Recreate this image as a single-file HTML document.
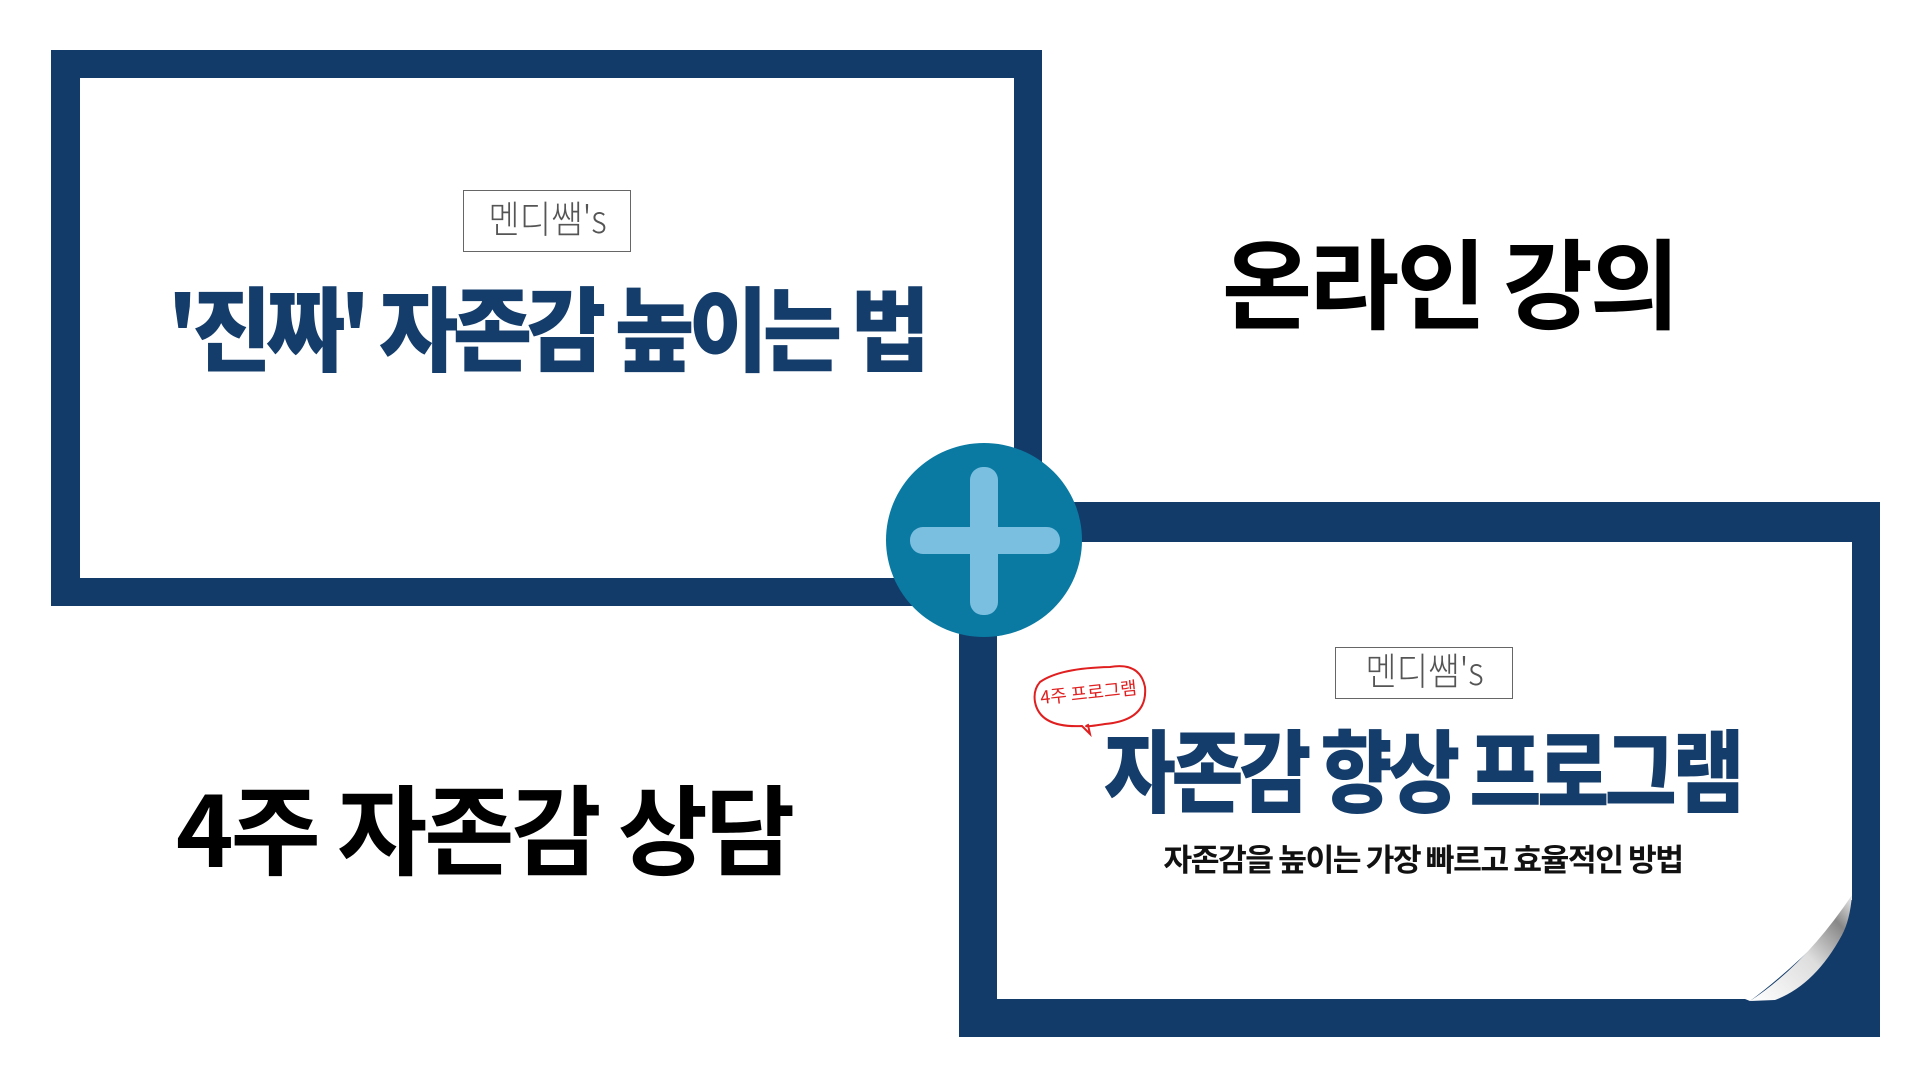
<!DOCTYPE html>
<html><head><meta charset="utf-8"><style>
html,body{margin:0;padding:0;background:#fff;}
body{width:1920px;height:1080px;position:relative;overflow:hidden;font-family:"Liberation Sans","Noto Sans CJK KR",sans-serif;}
.abs{position:absolute;}
.t{position:absolute;white-space:nowrap;line-height:1;}
.c{position:absolute;white-space:nowrap;line-height:1;}
.navy{color:#143d6b;}
</style></head><body>
<!-- left box -->
<div class="abs" style="left:51px;top:50px;width:991px;height:556px;background:#123b6a;"></div>
<div class="abs" style="left:80px;top:78px;width:934px;height:500px;background:#fff;"></div>
<div class="abs" style="left:463px;top:190px;width:166px;height:60px;border:1.5px solid #666;"></div>
<div class="t" style="left:463px;top:198px;width:169px;text-align:center;font-size:38px;color:#555;font-family:'Noto Sans CJK KR',sans-serif;font-weight:300;transform:scaleX(0.9);">멘디쌤's</div>
<div class="c navy" style="left:546px;top:279px;font-size:92px;font-weight:900;font-family:'Noto Sans CJK KR',sans-serif;letter-spacing:-6px;transform:translateX(-50%) scaleX(0.94);">'진짜' 자존감 높이는 법</div>

<div class="t" style="left:1222px;top:230px;width:451px;text-align:center;font-size:98px;font-weight:700;color:#000;font-family:'Noto Sans CJK KR',sans-serif;letter-spacing:-3px;">온라인 강의</div>
<div class="t" style="left:175px;top:776px;width:618px;text-align:center;font-size:98px;font-weight:700;color:#000;font-family:'Noto Sans CJK KR',sans-serif;letter-spacing:-3px;">4주 자존감 상담</div>

<!-- right box -->
<div class="abs" style="left:959px;top:502px;width:921px;height:535px;background:#123b6a;"></div>
<div class="abs" style="left:997px;top:542px;width:855px;height:457px;background:#fff;"></div>
<!-- page curl -->
<div class="abs" style="left:1750px;top:900px;width:102px;height:100px;background:#123b6a;"></div>
<svg class="abs" style="left:1745px;top:895px;" width="108" height="106" viewBox="0 0 108 106">
<defs><linearGradient id="g" x1="0" y1="1" x2="1" y2="0"><stop offset="0" stop-color="#fff"/><stop offset="0.5" stop-color="#ddd"/><stop offset="0.8" stop-color="#888"/><stop offset="1" stop-color="#eee"/></linearGradient></defs>
<path d="M0 0 L0 104 L5 106 Q40 80 80 40 Q102 15 107 0 Z" fill="#fff"/>
<path d="M5 106 Q60 70 107 0 Q105 25 97 40 Q70 90 30 105 Z" fill="url(#g)"/>
</svg>
<div class="abs" style="left:1335px;top:647px;width:176px;height:50px;border:1.5px solid #666;"></div>
<div class="t" style="left:1335px;top:650px;width:179px;text-align:center;font-size:38px;color:#555;font-family:'Noto Sans CJK KR',sans-serif;font-weight:300;transform:scaleX(0.9);">멘디쌤's</div>
<!-- bubble -->
<svg class="abs" style="left:1030px;top:662px;" width="120" height="75" viewBox="0 0 120 75">
<path d="M10 20 Q30 6 80 5 Q110 0 115 25 Q118 58 75 62 Q50 66 58 63 L60 72 L52 64 Q10 66 5 40 Q3 28 10 20 Z" fill="none" stroke="#e02020" stroke-width="2"/>
</svg>
<div class="t" style="left:1040px;top:683px;font-size:18px;color:#e02020;font-family:'Noto Sans CJK KR',sans-serif;transform:rotate(-6deg);">4주 프로그램</div>
<div class="c navy" style="left:1422px;top:721px;font-size:90px;font-weight:900;font-family:'Noto Sans CJK KR',sans-serif;letter-spacing:-5px;transform:translateX(-50%) scaleX(0.87);">자존감 향상 프로그램</div>
<div class="c" style="left:1423px;top:842px;font-size:31px;font-weight:700;color:#111;font-family:'Noto Sans CJK KR',sans-serif;letter-spacing:-1.5px;transform:translateX(-50%) scaleX(1.01);">자존감을 높이는 가장 빠르고 효율적인 방법</div>

<!-- plus circle -->
<div class="abs" style="left:886px;top:443px;width:196px;height:194px;border-radius:50%;background:#0a7aa2;"></div>
<div class="abs" style="left:910px;top:527px;width:150px;height:27px;border-radius:13px;background:#7bbfe0;"></div>
<div class="abs" style="left:970px;top:467px;width:28px;height:148px;border-radius:13px;background:#7bbfe0;"></div>
</body></html>
